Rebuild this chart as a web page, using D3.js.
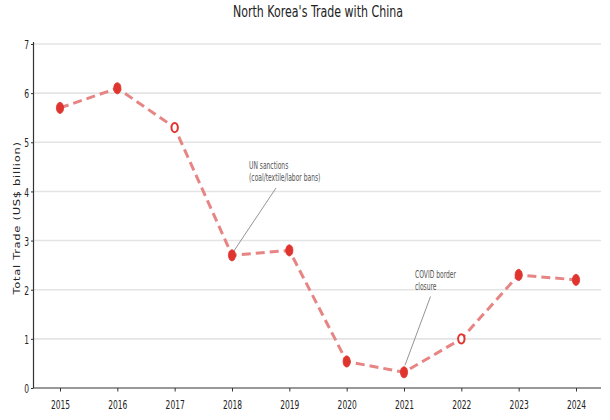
<!DOCTYPE html>
<html lang="en">
<head>
<meta charset="utf-8">
<title>North Korea's Trade with China</title>
<script src="https://cdn.jsdelivr.net/npm/d3@7"></script>
<style>
  body { margin: 0; background: #fff; }
  svg text { fill: #222; font-family: "DejaVu Sans", sans-serif; }
  .tick text { font-size: 13px; }
</style>
</head>
<body>
<svg id="chart" width="610" height="420"></svg>
<script>
// data
var years = ["2015","2016","2017","2018","2019","2020","2021","2022","2023","2024"];
var trade = [5.7, 6.1, 5.3, 2.7, 2.8, 0.54, 0.32, 1.0, 2.3, 2.2];
var hollow = ["2017", "2022"];
var yTicks = [0, 1, 2, 3, 4, 5, 6, 7];
var noteYears = ["2018", "2021"];
var noteText = [["UN sanctions", "(coal/textile/labor bans)"], ["COVID border", "closure"]];

// layout (text is squeezed horizontally like the reference)
var sx = 0.58;
var mLeft = 33.5, mRight = 601, mTop = 44, mBottom = 388;
var notePos = [
  { tx: 249, ty: 169, ax: 276, ay: 188, gap: 3 },
  { tx: 415, ty: 278, ax: 430.5, ay: 296.5, gap: 7 }
];

var svg = d3.select("#chart");
var x = d3.scalePoint().domain(years).range([60, 576]);
var y = d3.scaleLinear().domain([0, 7]).range([mBottom, mTop]);

// grid
svg.append("g").selectAll("line")
  .data(yTicks.slice(1))
  .enter().append("line")
  .attr("x1", mLeft).attr("x2", mRight)
  .attr("y1", function(d) { return y(d); })
  .attr("y2", function(d) { return y(d); })
  .attr("stroke", "#e4e4e4").attr("stroke-width", 1.6);

// axes
var yAxis = svg.append("g")
  .attr("transform", "translate(" + mLeft + ",0)")
  .call(d3.axisLeft(y).tickValues(yTicks).tickFormat(d3.format("d")).tickSize(2.5).tickPadding(2));
yAxis.select(".domain").remove();
yAxis.selectAll(".tick text").attr("x", 0).attr("dy", "0.36em")
  .attr("transform", "translate(-4.5,0) scale(" + sx + ",1)");

var xAxis = svg.append("g")
  .attr("transform", "translate(0," + mBottom + ")")
  .call(d3.axisBottom(x).tickSize(3.5).tickPadding(8));
xAxis.select(".domain").remove();
xAxis.selectAll(".tick text").attr("transform", "scale(" + sx + ",1)");
svg.selectAll(".tick line").attr("stroke", "#333");

svg.append("line").attr("x1", mLeft).attr("x2", mLeft).attr("y1", mTop - 2).attr("y2", mBottom)
  .attr("stroke", "#333").attr("stroke-width", 1.2);
svg.append("line").attr("x1", mLeft).attr("x2", mRight).attr("y1", mBottom).attr("y2", mBottom)
  .attr("stroke", "#333").attr("stroke-width", 1.2);

// y label
svg.append("text")
  .attr("transform", "translate(17," + ((mTop + mBottom) / 2 + 2) + ") scale(0.72,1) rotate(-90)")
  .attr("text-anchor", "middle")
  .attr("dominant-baseline", "central")
  .style("font-size", "11.5px")
  .style("letter-spacing", "0.7px")
  .text("Total Trade (US$ billion)");

// title
svg.append("text")
  .attr("transform", "translate(318,17) scale(0.69,1)")
  .attr("text-anchor", "middle")
  .style("font-size", "16px")
  .text("North Korea's Trade with China");

// line
var line = d3.line()
  .x(function(d, i) { return x(years[i]); })
  .y(function(d) { return y(d); });

svg.append("path")
  .datum(trade)
  .attr("d", line)
  .attr("fill", "none")
  .attr("stroke", "#e78585")
  .attr("stroke-width", 3)
  .attr("stroke-dasharray", "9,5");

// annotations
noteYears.forEach(function(yr, k) {
  var p = notePos[k];
  var v = trade[years.indexOf(yr)];
  svg.append("line")
    .attr("x1", p.ax).attr("y1", p.ay)
    .attr("x2", x(yr) + 1).attr("y2", y(v) - p.gap)
    .attr("stroke", "#888").attr("stroke-width", 0.9);
  var t = svg.append("text")
    .attr("transform", "translate(" + p.tx + "," + p.ty + ") scale(0.6,1)")
    .style("font-size", "10px")
    .style("fill", "#555");
  noteText[k].forEach(function(s, i) {
    t.append("tspan").attr("x", 0).attr("dy", i ? 11.7 : 0).text(s);
  });
});

// markers
svg.append("g").selectAll("ellipse")
  .data(trade)
  .enter().append("ellipse")
  .attr("cx", function(d, i) { return x(years[i]); })
  .attr("cy", function(d) { return y(d); })
  .attr("rx", function(d, i) { return hollow.indexOf(years[i]) >= 0 ? 3.2 : 3.6; })
  .attr("ry", function(d, i) { return hollow.indexOf(years[i]) >= 0 ? 4.6 : 5.6; })
  .attr("fill", function(d, i) { return hollow.indexOf(years[i]) >= 0 ? "#fff" : "#e0342f"; })
  .attr("stroke", "#e0342f")
  .attr("stroke-width", function(d, i) { return hollow.indexOf(years[i]) >= 0 ? 2 : 0.8; });
</script>
</body>
</html>
